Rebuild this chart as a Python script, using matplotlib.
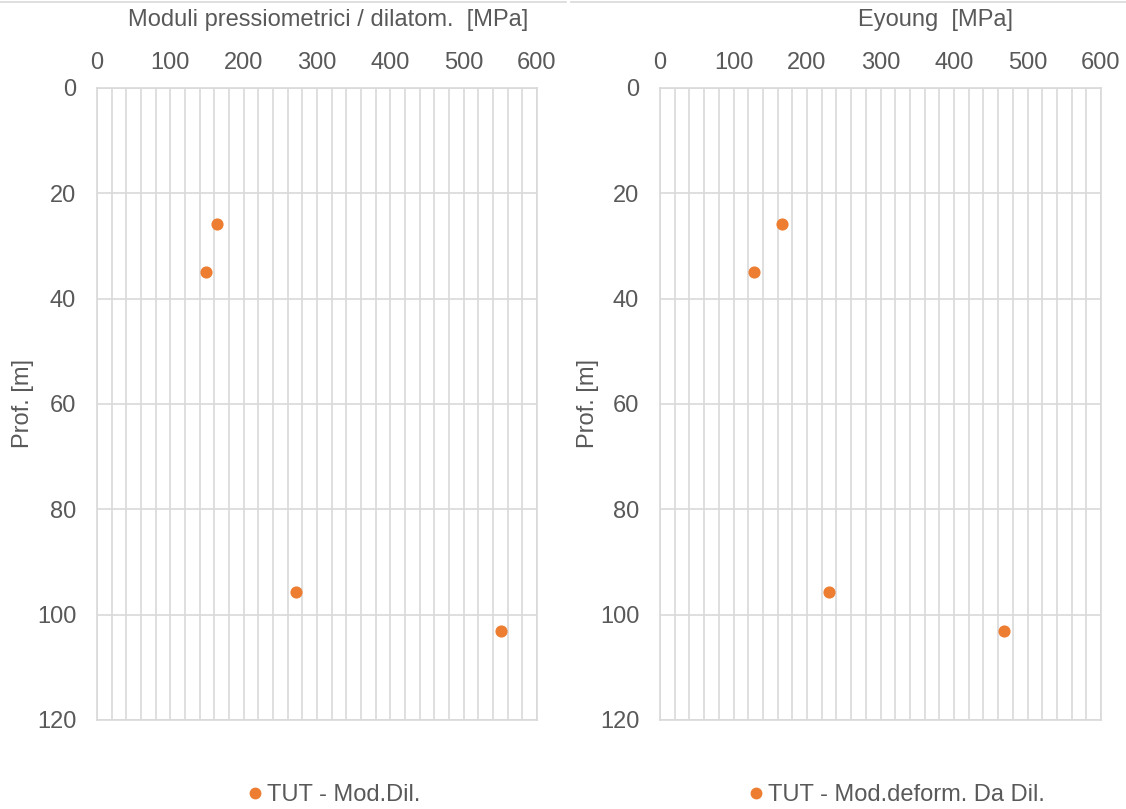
import matplotlib
matplotlib.use("Agg")
import matplotlib.pyplot as plt
from matplotlib.lines import Line2D

plt.rcParams["font.family"] = ["Liberation Sans", "DejaVu Sans"]

# depth [m] of each test
depth = [25.8, 34.9, 95.7, 103.1]
# pressiometric / dilatometric modulus [MPa]
mod_dil = [164, 149, 271, 551]
# Young's modulus derived from dilatometer [MPa]
e_young = [166, 128, 230, 468]

titles = ["Moduli pressiometrici / dilatom.  [MPa]", "Eyoung  [MPa]"]
labels = ["TUT - Mod.Dil.", "TUT - Mod.deform. Da Dil."]
x_ticks = [0, 100, 200, 300, 400, 500, 600]
y_ticks = [0, 20, 40, 60, 80, 100, 120]

TEXT = "#595959"
GRID = "#d9d9d9"
ORANGE = "#ED7D31"
FS = 17

W, H = 1126, 809
fig = plt.figure(figsize=(W / 100, H / 100), dpi=100)

# axes boxes in pixels: left, right
boxes = [(97, 537), (660, 1101)]
top, bottom = 88, 720
title_x = [328, 936]
ylabel_x = [23, 588]
legend_x = [246, 747]

for i, (vals, (x0, x1)) in enumerate(zip([mod_dil, e_young], boxes)):
    ax = fig.add_axes([x0 / W, 1 - bottom / H, (x1 - x0) / W, (bottom - top) / H])
    ax.scatter(vals, depth, s=60, color=ORANGE, zorder=3)
    ax.set_xlim(0, 600)
    ax.set_ylim(120, 0)
    ax.xaxis.tick_top()
    ax.set_xticks(x_ticks)
    ax.set_yticks(y_ticks)
    ax.set_xticks(range(0, 601, 20), minor=True)
    ax.grid(True, which="both", axis="x", color=GRID, lw=1.2)
    ax.grid(True, which="major", axis="y", color=GRID, lw=1.2)
    ax.set_axisbelow(True)
    ax.tick_params(which="both", length=0, labelsize=FS, colors=TEXT)
    ax.tick_params(axis="x", pad=10)
    ax.tick_params(axis="y", pad=15)
    for sp in ax.spines.values():
        sp.set_color(GRID)
        sp.set_linewidth(1.2)

    fig.text(ylabel_x[i] / W, 1 - 404 / H, "Prof. [m]", fontsize=FS, color=TEXT,
             rotation=90, ha="center", va="center")
    fig.text(title_x[i] / W, 1 - 20 / H, titles[i], fontsize=FS, color=TEXT,
             ha="center", va="center")
    handle = Line2D([], [], ls="none", marker="o", ms=7.5, color=ORANGE)
    fig.legend([handle], [labels[i]], loc="center left", frameon=False,
               bbox_to_anchor=(legend_x[i] / W, 1 - 795 / H), fontsize=FS,
               labelcolor=TEXT, handletextpad=0.1, handlelength=0.8,
               borderpad=0, borderaxespad=0)

# faint frame lines at the top of the two chart objects
fig.add_artist(Line2D([0, 566 / W], [1 - 2 / H] * 2, color=GRID, lw=1.2))
fig.add_artist(Line2D([571 / W, 1], [1 - 2 / H] * 2, color=GRID, lw=1.2))

fig.savefig("out.png", dpi=100)
